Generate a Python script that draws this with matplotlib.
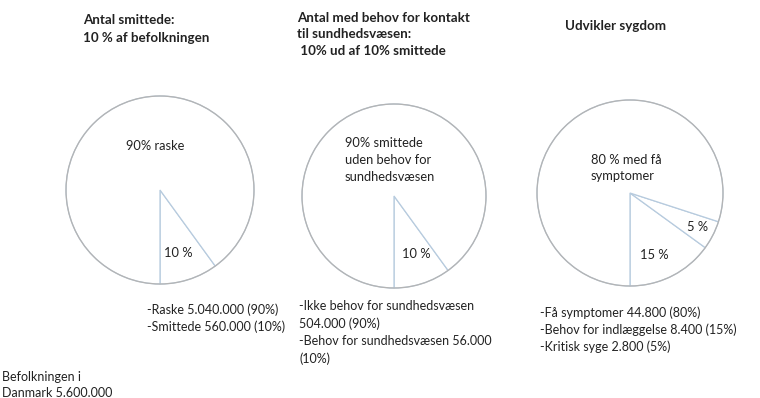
import matplotlib.pyplot as plt
from matplotlib.patches import Circle

plt.rcParams['font.family'] = ['Lato', 'DejaVu Sans']

W, H = 760, 398

# Data for the three pies
smittede_vals = [10, 90]
smittede_labels = ['10 %', '90% raske']
kontakt_vals = [10, 90]
kontakt_labels = ['10 %', '90% smittede\nuden behov for\nsundhedsvæsen']
sygdom_vals = [15, 5, 80]
sygdom_labels = ['15 %', '5 %', '80 % med få\nsymptomer']

titles = ['Antal smittede:\n10 % af befolkningen',
          'Antal med behov for kontakt\ntil sundhedsvæsen:\n 10% ud af 10% smittede',
          'Udvikler sygdom']
notes = ['-Raske 5.040.000 (90%)\n-Smittede 560.000 (10%)',
         '-Ikke behov for sundhedsvæsen\n504.000 (90%)\n-Behov for sundhedsvæsen 56.000\n(10%)',
         '-Få symptomer 44.800 (80%)\n-Behov for indlæggelse 8.400 (15%)\n-Kritisk syge 2.800 (5%)']
footer = 'Befolkningen i\nDanmark 5.600.000'


def Y(y):
    # pixel row (top down) -> axis y (bottom up)
    return H - y


fig = plt.figure(figsize=(W / 100, H / 100), dpi=100)
ax = fig.add_axes([0, 0, 1, 1])

line_col = '#b7cbde'
ring_col = '#b4b4b4'
txt_col = '#222222'

pies = [
    (smittede_vals, (160, 190), 94),
    (kontakt_vals, (394, 196), 92),
    (sygdom_vals, (630, 193), 93),
]
for vals, (cx, cy), r in pies:
    ax.pie(vals, center=(cx, Y(cy)), radius=r, startangle=-90, counterclock=True,
           colors=['white'] * len(vals), frame=True,
           wedgeprops=dict(edgecolor=line_col, linewidth=0.9))
    ax.add_patch(Circle((cx, Y(cy)), r, fill=False, edgecolor=ring_col, linewidth=0.9, zorder=5))

ax.set_xlim(0, W)
ax.set_ylim(0, H)
ax.set_aspect('equal')
ax.axis('off')

# Labels inside the pies
fs_in = 9.3
ax.text(155, Y(146), smittede_labels[1], fontsize=fs_in, color=txt_col, ha='center', va='center')
ax.text(178, Y(253), smittede_labels[0], fontsize=fs_in, color=txt_col, ha='center', va='center')
ax.text(345, Y(160), kontakt_labels[1], fontsize=fs_in, color=txt_col, ha='left', va='center',
        linespacing=1.5)
ax.text(416, Y(254), kontakt_labels[0], fontsize=fs_in, color=txt_col, ha='center', va='center')
ax.text(591, Y(168), sygdom_labels[2], fontsize=fs_in, color=txt_col, ha='left', va='center',
        linespacing=1.45)
ax.text(698, Y(227), sygdom_labels[1], fontsize=fs_in, color=txt_col, ha='center', va='center')
ax.text(654, Y(255), sygdom_labels[0], fontsize=fs_in, color=txt_col, ha='center', va='center')

# Headings
fs_t = 9.6
ax.text(83, Y(14), titles[0], fontsize=fs_t, fontweight='bold', color=txt_col,
        ha='left', va='top', linespacing=1.55)
ax.text(297, Y(12), titles[1], fontsize=fs_t, fontweight='bold', color=txt_col,
        ha='left', va='top', linespacing=1.45)
ax.text(565, Y(20), titles[2], fontsize=fs_t, fontweight='bold', color=txt_col,
        ha='left', va='top')

# Counts under each pie
fs_n = 9.0
ax.text(147, Y(303), notes[0], fontsize=fs_n, color=txt_col, ha='left', va='top', linespacing=1.45)
ax.text(299, Y(300), notes[1], fontsize=fs_n, color=txt_col, ha='left', va='top', linespacing=1.5)
ax.text(540, Y(306), notes[2], fontsize=fs_n, color=txt_col, ha='left', va='top', linespacing=1.45)
ax.text(2, Y(371), footer, fontsize=fs_n, color=txt_col, ha='left', va='top', linespacing=1.4)

fig.savefig('out.png', dpi=100, facecolor='white')
